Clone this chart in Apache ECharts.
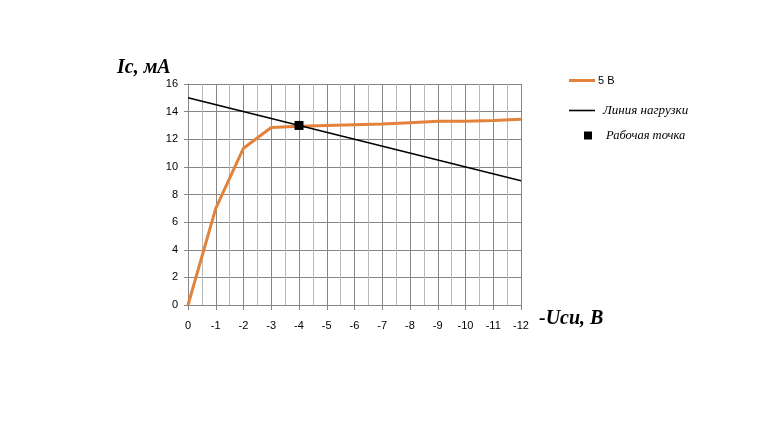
<!DOCTYPE html>
<html><head><meta charset="utf-8">
<script src="https://cdn.jsdelivr.net/npm/echarts@6/dist/echarts.min.js"></script>
<style>html,body{margin:0;padding:0;background:#fff}#c{width:771px;height:434px}</style>
</head><body><div id="c"></div>
<script>
const uValues = [0, -1, -2, -3, -4, -5, -6, -7, -8, -9, -10, -11, -12];
const curve5V = [0, 7.0, 11.35, 12.85, 12.95, 13.0, 13.05, 13.1, 13.2, 13.3, 13.3, 13.35, 13.45];
const loadLineU = [0, -12];
const loadLineI = [15, 9];
const workPoint = [-4, 13];
const seriesNames = ['5 В', 'Линия нагрузки', 'Рабочая точка'];
const yTitle = 'Ic, мА';
const xTitle = '-Uси, В';

const chart = echarts.init(document.getElementById('c'));
const tickFont = {fontFamily: 'Liberation Sans, Arial, sans-serif', fontSize: 11, color: '#000'};
const serif = 'Liberation Serif, Times New Roman, serif';
chart.setOption({
  animation: false,
  backgroundColor: '#fff',
  grid: {left: 188, right: 250, top: 84, bottom: 129, containLabel: false},
  xAxis: {
    type: 'value', min: -12, max: 0, interval: 1, inverse: true,
    axisLine: {show: true, onZero: false, lineStyle: {color: '#868686', width: 1}},
    axisTick: {show: true, length: 5, lineStyle: {color: '#868686'}},
    axisLabel: Object.assign({margin: 15}, tickFont),
    splitLine: {show: true, lineStyle: {color: '#868686', width: 1}},
    minorTick: {show: false, splitNumber: 2},
    minorSplitLine: {show: true, lineStyle: {color: '#b8b8b8', width: 1}}
  },
  yAxis: {
    type: 'value', min: 0, max: 16, interval: 2,
    axisLine: {show: true, lineStyle: {color: '#868686', width: 1}},
    axisTick: {show: true, length: 4, lineStyle: {color: '#868686'}},
    axisLabel: Object.assign({margin: 10}, tickFont),
    splitLine: {show: true, lineStyle: {color: '#868686', width: 1}}
  },
  legend: [
    {data: [seriesNames[0]], orient: 'vertical', left: 569, top: 75, padding: 0,
     icon: 'rect', itemWidth: 26, itemHeight: 3,
     textStyle: {fontFamily: 'Liberation Sans, Arial, sans-serif', fontSize: 11, color: '#000', padding: [0, 0, 0, -2]}},
    {data: [seriesNames[1]], orient: 'vertical', left: 569, top: 104, padding: 0,
     icon: 'rect', itemWidth: 26, itemHeight: 1.6,
     textStyle: {fontFamily: serif, fontStyle: 'italic', fontSize: 13, color: '#000', padding: [0, 0, 0, 3]}},
    {data: [seriesNames[2]], orient: 'vertical', left: 584, top: 129, padding: 0,
     icon: 'rect', itemWidth: 8, itemHeight: 8,
     textStyle: {fontFamily: serif, fontStyle: 'italic', fontSize: 12.5, color: '#000', padding: [0, 0, 0, 9]}}
  ],
  graphic: [
    {type: 'text', left: 117, top: 58, style: {text: yTitle, fontFamily: serif, fontStyle: 'italic', fontWeight: 'bold', fontSize: 20, fill: '#000'}},
    {type: 'text', left: 539, top: 309, style: {text: xTitle, fontFamily: serif, fontStyle: 'italic', fontWeight: 'bold', fontSize: 20, fill: '#000'}}
  ],
  series: [
    {name: seriesNames[0], type: 'line', symbol: 'none', data: uValues.map((u, i) => [u, curve5V[i]]),
     lineStyle: {color: '#e3823a', width: 3}, itemStyle: {color: '#e3823a'}, z: 2},
    {name: seriesNames[1], type: 'line', symbol: 'none', data: loadLineU.map((u, i) => [u, loadLineI[i]]),
     lineStyle: {color: '#000', width: 1.6}, itemStyle: {color: '#000'}, z: 3},
    {name: seriesNames[2], type: 'scatter', symbol: 'rect', symbolSize: 9, data: [workPoint],
     itemStyle: {color: '#000', opacity: 1}, z: 4}
  ]
});
</script></body></html>
